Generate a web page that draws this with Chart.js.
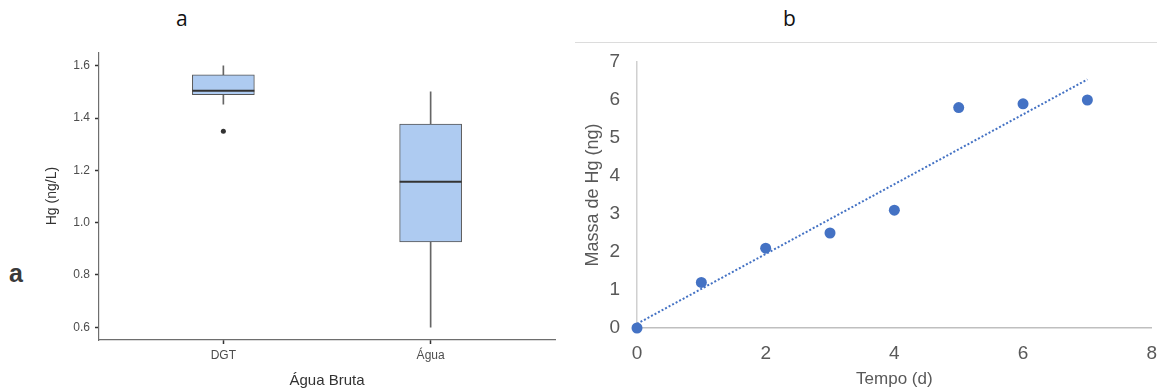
<!DOCTYPE html>
<html lang="pt">
<head>
<meta charset="UTF-8">
<title>Hg - DGT e Água Bruta</title>
<style>
  body { margin: 0; width: 1157px; height: 391px; background: #fff; position: relative; overflow: hidden; font-family: "Liberation Sans", Arial, sans-serif; }
  .painel { position: absolute; }
  #wrapA { left: 0; top: 40px; width: 570px; height: 351px; }
  #wrapB { left: 575px; top: 44px; width: 585px; height: 347px; }
  .letra { position: absolute; font-family: "Open Sans", sans-serif; font-size: 21px; color: #111; line-height: 1; }
  #letraA { left: 176px; top: 8px; }
  #letraB { left: 783px; top: 8px; }
  #letraSolta { left: 9px; top: 261px; font-family: "Liberation Sans", Arial, sans-serif; font-weight: bold; font-size: 25px; color: #3a3a3a; }
  #linhaTopo { position: absolute; left: 575px; top: 42px; width: 582px; height: 1px; background: #dcdcdc; }
</style>
</head>
<body>
  <div class="letra" id="letraA">a</div>
  <div class="letra" id="letraB">b</div>
  <div class="letra" id="letraSolta">a</div>
  <div id="linhaTopo"></div>
  <div class="painel" id="wrapA"><canvas id="graficoA"></canvas></div>
  <div class="painel" id="wrapB"><canvas id="graficoB"></canvas></div>

  <script src="https://cdn.jsdelivr.net/npm/chart.js"></script>
  <script>
    // painel a : boxplot (Hg ng/L)
    var grupos = ['DGT', 'Água'];
    var grupoX = [1, 2];
    var minimo = [1.453, 0.6];
    var q1 = [1.49, 0.926];
    var mediana = [1.505, 1.156];
    var q3 = [1.565, 1.377];
    var maximo = [1.6, 1.5];
    var outlierX = [1];
    var outlierY = [1.35];
    var ticksA = [0.6, 0.8, 1.0, 1.2, 1.4, 1.6];

    // painel b : massa de Hg x tempo
    var tempo = [0, 1, 2, 3, 4, 5, 6, 7];
    var massa = [0, 1.2, 2.1, 2.5, 3.1, 5.8, 5.9, 6.0];
    var tendX = [0, 7];
    var tendY = [0.11, 6.54];

    var caixas = grupoX.map(function (x, i) { return { x: x, y: [q1[i], q3[i]] }; });
    var bigodes = grupoX.map(function (x, i) { return { x: x, y: [minimo[i], maximo[i]] }; });
    var medianas = grupoX.map(function (x, i) { return { x: x, y: mediana[i] }; });
    var outliers = outlierX.map(function (x, i) { return { x: x, y: outlierY[i] }; });

    new Chart(document.getElementById('graficoA'), {
      type: 'bar',
      data: {
        datasets: [{
          type: 'line',
          data: medianas,
          showLine: false,
          pointStyle: 'line',
          pointRadius: 31,
          pointBorderWidth: 2,
          pointBorderColor: '#333',
          clip: false,
          order: 0
        }, {
          type: 'line',
          data: outliers,
          showLine: false,
          pointRadius: 2.5,
          pointBackgroundColor: '#333',
          pointBorderWidth: 0,
          clip: false,
          order: 0
        }, {
          data: caixas,
          grouped: false,
          barThickness: 62,
          backgroundColor: '#aecbf1',
          borderColor: '#555',
          borderWidth: 1,
          borderSkipped: false,
          order: 1
        }, {
          data: bigodes,
          grouped: false,
          barThickness: 1,
          backgroundColor: '#666',
          borderWidth: 0,
          order: 2
        }]
      },
      options: {
        responsive: true,
        maintainAspectRatio: false,
        animation: false,
        events: [],
        layout: { autoPadding: false, padding: { left: 40, right: 15, top: 6, bottom: 0 } },
        plugins: { legend: { display: false }, tooltip: { enabled: false } },
        scales: {
          x: {
            type: 'linear',
            min: 0.4,
            max: 2.6,
            offset: false,
            afterBuildTicks: function (s) { s.ticks = grupoX.map(function (v) { return { value: v }; }); },
            afterFit: function (s) { s.height = 51; },
            ticks: {
              color: '#4d4d4d',
              font: { size: 12 },
              padding: 4,
              callback: function (v) { return grupos[grupoX.indexOf(v)]; }
            },
            grid: { offset: false, drawOnChartArea: false, drawTicks: true, tickLength: 4, tickColor: '#333', tickWidth: 1.5 },
            border: { color: '#6e6e6e', width: 1.2 },
            title: { display: true, text: 'Água Bruta', color: '#333', font: { size: 15 }, padding: { top: 0, bottom: 1 } }
          },
          y: {
            min: 0.551,
            max: 1.652,
            afterBuildTicks: function (s) { s.ticks = ticksA.map(function (v) { return { value: v }; }); },
            afterFit: function (s) { s.width = 59; },
            ticks: {
              color: '#4d4d4d',
              font: { size: 12 },
              padding: 5,
              callback: function (v) { return v.toFixed(1); }
            },
            grid: { drawOnChartArea: false, drawTicks: true, tickLength: 4, tickColor: '#333', tickWidth: 1.5 },
            border: { color: '#6e6e6e', width: 1.2 },
            title: { display: true, text: 'Hg (ng/L)', color: '#333', font: { size: 14 }, padding: { top: 4, bottom: 0 } }
          }
        }
      }
    });

    new Chart(document.getElementById('graficoB'), {
      type: 'scatter',
      data: {
        datasets: [{
          data: tempo.map(function (t, i) { return { x: t, y: massa[i] }; }),
          pointRadius: 5.5,
          pointBackgroundColor: '#4472c4',
          pointBorderColor: '#4472c4',
          pointBorderWidth: 0,
          clip: false,
          order: 0
        }, {
          type: 'line',
          data: tendX.map(function (t, i) { return { x: t, y: tendY[i] }; }),
          borderColor: '#4472c4',
          borderWidth: 2,
          borderDash: [2, 2],
          pointRadius: 0,
          fill: false,
          clip: false,
          order: 1
        }]
      },
      options: {
        responsive: true,
        maintainAspectRatio: false,
        animation: false,
        events: [],
        layout: { autoPadding: false, padding: { left: 5, right: 0, top: 18, bottom: 0 } },
        plugins: { legend: { display: false }, tooltip: { enabled: false } },
        scales: {
          x: {
            min: 0,
            max: 8,
            ticks: { stepSize: 2, color: '#595959', font: { size: 19 }, padding: 3 },
            afterFit: function (s) { s.height = 63; },
            grid: { drawOnChartArea: false, drawTicks: true, tickLength: 11, tickColor: 'rgba(0,0,0,0)' },
            border: { color: '#bfbfbf', width: 1.5 },
            title: { display: true, text: 'Tempo (d)', color: '#595959', font: { size: 17 }, padding: { top: 0, bottom: 1 } }
          },
          y: {
            min: 0,
            max: 7,
            ticks: { stepSize: 1, color: '#595959', font: { size: 19 }, padding: 3 },
            afterFit: function (s) { s.width = 57; },
            grid: { drawOnChartArea: false, drawTicks: true, tickLength: 14, tickColor: 'rgba(0,0,0,0)' },
            border: { color: '#d0d0d0', width: 1.5 },
            title: { display: true, text: 'Massa de Hg (ng)', color: '#595959', font: { size: 18 }, padding: { top: 2, bottom: 0 } }
          }
        }
      }
    });
  </script>
</body>
</html>
